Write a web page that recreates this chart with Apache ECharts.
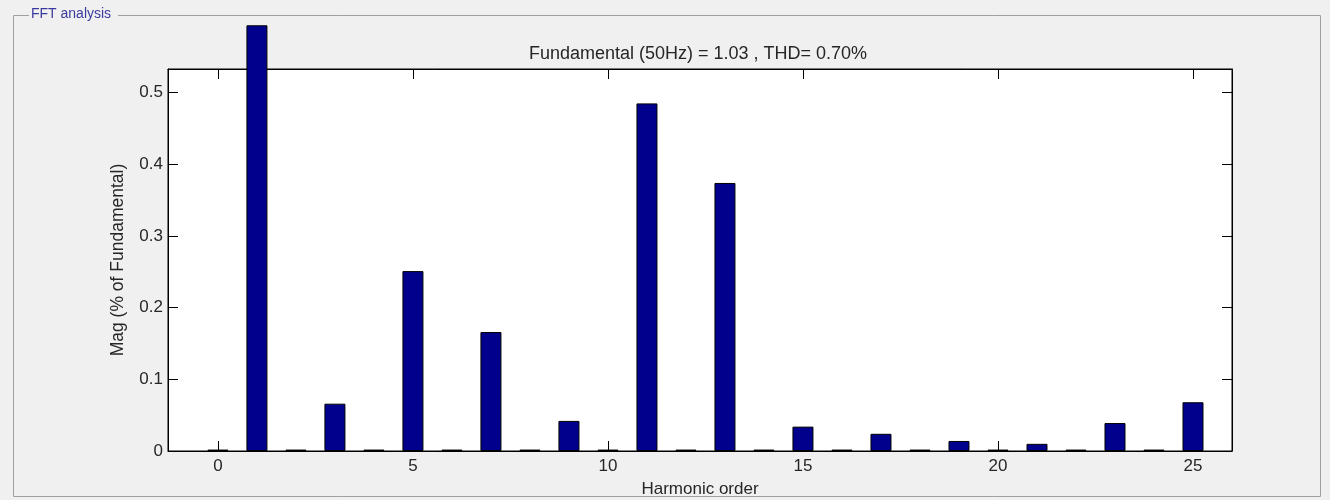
<!DOCTYPE html>
<html>
<head>
<meta charset="utf-8">
<script src="https://cdn.jsdelivr.net/npm/echarts@6/dist/echarts.min.js"></script>
<style>
  html, body { margin: 0; padding: 0; background: #f0f0f0; }
  #chart { width: 1330px; height: 500px; }
</style>
</head>
<body>
<div id="chart"></div>
<script>
// harmonic orders and magnitudes (% of fundamental)
var harmonicOrders = [0, 1, 2, 3, 4, 5, 6, 7, 8, 9, 10, 11, 12, 13, 14, 15, 16, 17, 18, 19, 20, 21, 22, 23, 24, 25];
var magnitudes = [0.002, 0.594, 0.002, 0.066, 0.002, 0.251, 0.002, 0.166, 0.002, 0.042, 0.002, 0.485, 0.002, 0.374,
                  0.002, 0.034, 0.002, 0.024, 0.002, 0.014, 0.002, 0.010, 0.002, 0.039, 0.002, 0.068];
var xTicks = [0, 5, 10, 15, 20, 25];
var yTicks = [0, 0.1, 0.2, 0.3, 0.4, 0.5];

var titleText = 'Fundamental (50Hz) = 1.03 , THD= 0.70%';
var panelText = 'FFT analysis';

var FONT = 'Liberation Sans, Arial, sans-serif';
var TXT = '#262626';

var barData = harmonicOrders.map(function (h, i) { return [h, magnitudes[i]]; });

var chart = echarts.init(document.getElementById('chart'));

// shared settings for the mirrored top/right axes
function mirrorAxis(pos, ticks, isX) {
    var a = {
        type: 'value',
        position: pos,
        axisLine: { show: true, onZero: false, lineStyle: { color: '#000', width: 1 } },
        axisTick: { show: true, inside: true, length: 10, customValues: ticks, lineStyle: { color: '#000' } },
        axisLabel: { show: false },
        splitLine: { show: false }
    };
    if (isX) { a.min = -1.28; a.max = 26; } else { a.min = 0; a.max = 0.533; }
    return a;
}

chart.setOption({
    backgroundColor: '#f0f0f0',
    animation: false,
    textStyle: { fontFamily: FONT },
    title: {
        text: titleText,
        left: 693,
        textAlign: 'center',
        top: 40,
        textStyle: { fontFamily: FONT, fontSize: 18, fontWeight: 'normal', color: TXT }
    },
    grid: {
        left: 168, right: 98, top: 69, bottom: 49,
        outerBoundsMode: 'none',
        show: true, backgroundColor: '#fff', borderColor: '#000', borderWidth: 1
    },
    xAxis: [{
        type: 'value',
        min: -1.28,
        max: 26,
        position: 'bottom',
        name: 'Harmonic order',
        nameLocation: 'middle',
        nameGap: 30,
        nameTextStyle: { fontFamily: FONT, fontSize: 17, color: TXT },
        axisLine: { show: true, onZero: false, lineStyle: { color: '#000', width: 1 } },
        axisTick: { show: true, inside: true, length: 10, customValues: xTicks, lineStyle: { color: '#000' } },
        axisLabel: { customValues: xTicks, fontFamily: FONT, fontSize: 17, color: TXT, margin: 7 },
        splitLine: { show: false }
    }, mirrorAxis('top', xTicks, true)],
    yAxis: [{
        type: 'value',
        min: 0,
        max: 0.533,
        name: 'Mag (% of Fundamental)',
        nameLocation: 'middle',
        nameGap: 41,
        nameTextStyle: { fontFamily: FONT, fontSize: 17.5, color: TXT },
        axisLine: { show: true, onZero: false, lineStyle: { color: '#000', width: 1 } },
        axisTick: { show: true, inside: true, length: 10, customValues: yTicks, lineStyle: { color: '#000' } },
        axisLabel: { customValues: yTicks, fontFamily: FONT, fontSize: 17, color: TXT, margin: 5 },
        splitLine: { show: false }
    }, mirrorAxis('right', yTicks, false)],
    series: [{
        type: 'bar',
        data: barData,
        barWidth: 21,
        clip: false,
        itemStyle: { color: '#00008c', borderColor: '#000', borderWidth: 1 }
    }],
    graphic: [
        { type: 'rect', z: 100, silent: true,
          shape: { x: 13.5, y: 15.5, width: 1307, height: 481 },
          style: { fill: null, stroke: '#a0a0a0', lineWidth: 1 } },
        { type: 'rect', z: 101, silent: true,
          shape: { x: 29, y: 6, width: 89, height: 18 },
          style: { fill: '#f0f0f0' } },
        { type: 'text', z: 102, silent: true, left: 31, top: 7,
          style: { text: panelText, fill: '#3a3a9e', font: '14px ' + FONT } }
    ]
});
</script>
</body>
</html>
